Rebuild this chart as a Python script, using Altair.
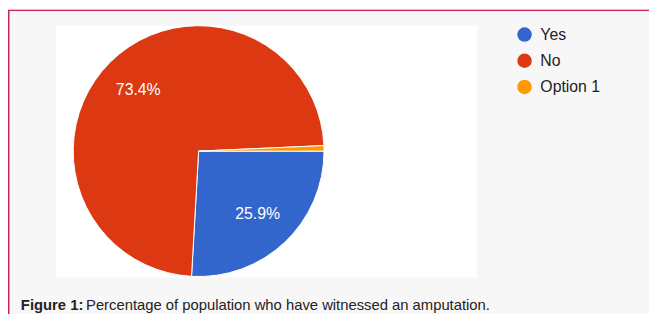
import math
import altair as alt
import pandas as pd

categories = ["Yes", "No", "Option 1"]
percent = [25.9, 73.4, 0.7]
labels = ["25.9%", "73.4%", ""]
colors = ["#3366cc", "#dc3912", "#ff9900"]
caption_bold = "Figure 1:"
caption_text = "Percentage of population who have witnessed an amputation."

df = pd.DataFrame({
    "answer": categories,
    "pct": percent,
    "label": labels,
    "idx": list(range(len(categories))),
})
one = pd.DataFrame({"k": [0]})

FONT = "Liberation Sans"
CX, CY, R = 193, 143, 127

theta = alt.Theta("pct:Q", stack=True,
                  scale=alt.Scale(range=[math.pi / 2, math.pi / 2 + 2 * math.pi]))
order = alt.Order("idx:Q", sort="ascending")

panel = alt.Chart(one).mark_rect(color="white").encode(
    x=alt.value(49), x2=alt.value(475), y=alt.value(16), y2=alt.value(271)
)

frame_top = alt.Chart(one).mark_rule(color="#c7254e", strokeWidth=1.5).encode(
    x=alt.value(0), x2=alt.value(660), y=alt.value(0.5)
)
frame_left = alt.Chart(one).mark_rule(color="#c7254e", strokeWidth=1.5).encode(
    x=alt.value(0.75), y=alt.value(0), y2=alt.value(320)
)

pie = alt.Chart(df).mark_arc(radius=R, stroke="white", strokeWidth=1).encode(
    theta=theta,
    order=order,
    x=alt.value(CX),
    y=alt.value(CY),
    color=alt.Color(
        "answer:N",
        scale=alt.Scale(domain=categories, range=colors),
        legend=alt.Legend(
            orient="none", legendX=515, legendY=17, title=None,
            symbolType="circle", symbolSize=215, symbolStrokeWidth=0,
            labelFontSize=16, labelFont=FONT, labelColor="#222222",
            rowPadding=10.5, labelOffset=8, padding=0,
        ),
    ),
)

pie_text = alt.Chart(df).mark_text(
    radius=87, font=FONT, fontSize=16, color="white", baseline="middle", align="center"
).encode(
    theta=theta,
    order=order,
    x=alt.value(CX),
    y=alt.value(CY),
    text="label:N",
)

cap1 = alt.Chart(one).mark_text(
    text=caption_bold, font=FONT, fontSize=15, fontWeight="bold",
    color="#222222", align="left", baseline="alphabetic"
).encode(x=alt.value(13), y=alt.value(303.5))

cap2 = alt.Chart(one).mark_text(
    text=caption_text, font=FONT, fontSize=15,
    color="#222222", align="left", baseline="alphabetic"
).encode(x=alt.value(79), y=alt.value(303.5))

chart = alt.layer(panel, frame_top, frame_left, pie, pie_text, cap1, cap2).properties(
    width=649, height=306, background="#f8f7f8", padding=0,
    autosize=alt.AutoSizeParams(type="none"),
).configure_view(stroke=None)

chart.save("out.html", embed_options={"renderer": "svg", "actions": False})
